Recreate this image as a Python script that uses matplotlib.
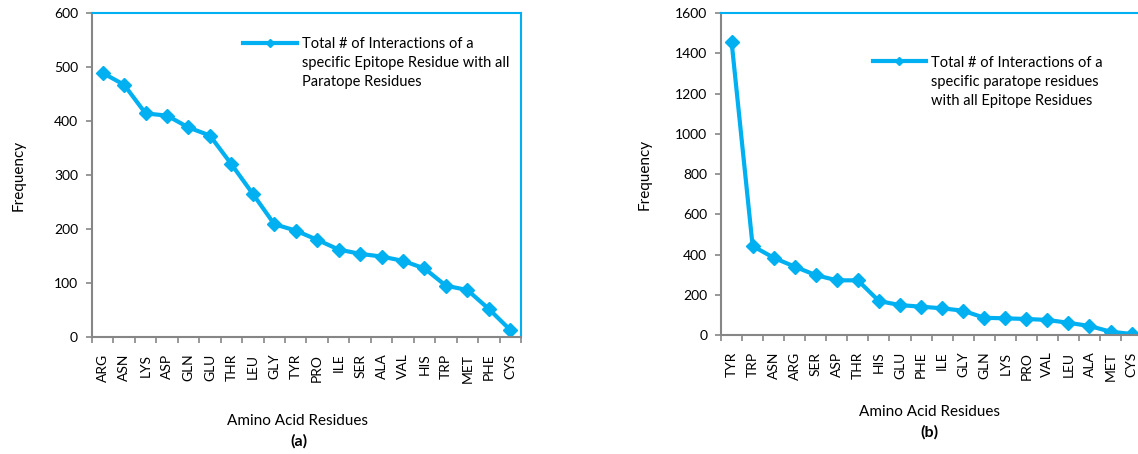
import matplotlib.pyplot as plt
from matplotlib.lines import Line2D

plt.rcParams['font.family'] = ['Lato', 'DejaVu Sans']

blue = "#00B0F0"
grey = "#868686"

res_a = ["ARG", "ASN", "LYS", "ASP", "GLN", "GLU", "THR", "LEU", "GLY", "TYR",
         "PRO", "ILE", "SER", "ALA", "VAL", "HIS", "TRP", "MET", "PHE", "CYS"]
freq_a = [489, 467, 414, 410, 388, 373, 320, 265, 209, 197,
          180, 162, 154, 149, 141, 127, 95, 87, 52, 13]

res_b = ["TYR", "TRP", "ASN", "ARG", "SER", "ASP", "THR", "HIS", "GLU", "PHE",
         "ILE", "GLY", "GLN", "LYS", "PRO", "VAL", "LEU", "ALA", "MET", "CYS"]
freq_b = [1459, 443, 384, 340, 298, 272, 272, 169, 149, 141,
          133, 121, 86, 83, 80, 75, 61, 45, 17, 5]

label_a = "Total # of Interactions of a\nspecific Epitope Residue with all\nParatope Residues"
label_b = "Total # of Interactions of a\nspecific paratope residues\nwith all Epitope Residues"

fig = plt.figure(figsize=(11.38, 4.54), dpi=100)
ax_a = fig.add_axes([0.0808, 0.2577, 0.377, 0.7137])
ax_b = fig.add_axes([0.6336, 0.262, 0.37, 0.709])


def draw(ax, names, vals, ymax, ystep, label, leg, ylab_x, xlab_pos, tag_pos, tag):
    n = len(names)
    x = list(range(n))
    ax.plot(x, vals, color=blue, lw=3, marker="D", ms=7.5)
    ax.set_xlim(-0.5, n - 0.5)
    ax.set_ylim(0, ymax)
    ax.set_yticks(range(0, ymax + 1, ystep))
    ax.set_xticks(x)
    ax.set_xticklabels(names, rotation=90, fontsize=10)
    ax.tick_params(axis="x", which="major", length=0, pad=12)
    ax.set_xticks([i - 0.5 for i in range(n + 1)], minor=True)
    ax.tick_params(axis="x", which="minor", length=4, width=1.2, color=grey, direction="out")
    ax.tick_params(axis="y", length=4, width=1.2, color=grey, labelsize=10, pad=6)
    for s in ["left", "bottom"]:
        ax.spines[s].set_color(grey)
        ax.spines[s].set_linewidth(1.5)
    for s in ["top", "right"]:
        ax.spines[s].set_color(blue)
        ax.spines[s].set_linewidth(1.5)
    ax.set_ylabel("Frequency", fontsize=11)
    ax.yaxis.set_label_coords(ylab_x, 0.5)
    ax.text(xlab_pos[0], xlab_pos[1], "Amino Acid Residues", transform=ax.transAxes,
            ha="center", va="center", fontsize=11)
    ax.text(tag_pos[0], tag_pos[1], tag, transform=ax.transAxes,
            ha="center", va="center", fontsize=11.5, fontweight="bold")
    # legend drawn by hand so the key sits on the first text line
    x0, x1, y = leg
    ax.add_line(Line2D([x0, x1], [y, y], transform=ax.transAxes, color=blue, lw=3,
                       clip_on=False))
    ax.add_line(Line2D([(x0 + x1) / 2], [y], transform=ax.transAxes, color=blue,
                       marker="D", ms=4.5, clip_on=False))
    ax.text(x1 + 0.012, y + 0.017, label, transform=ax.transAxes, ha="left", va="top",
            fontsize=10.5, linespacing=1.45)


draw(ax_a, res_a, freq_a, 600, 100, label_a, (0.352, 0.478, 0.908), -0.155,
     (0.478, -0.259), (0.482, -0.321), "(a)")
draw(ax_b, res_b, freq_b, 1600, 200, label_b, (0.36, 0.487, 0.85), -0.165,
     (0.496, -0.238), (0.496, -0.301), "(b)")

fig.savefig("out.png", dpi=100)
